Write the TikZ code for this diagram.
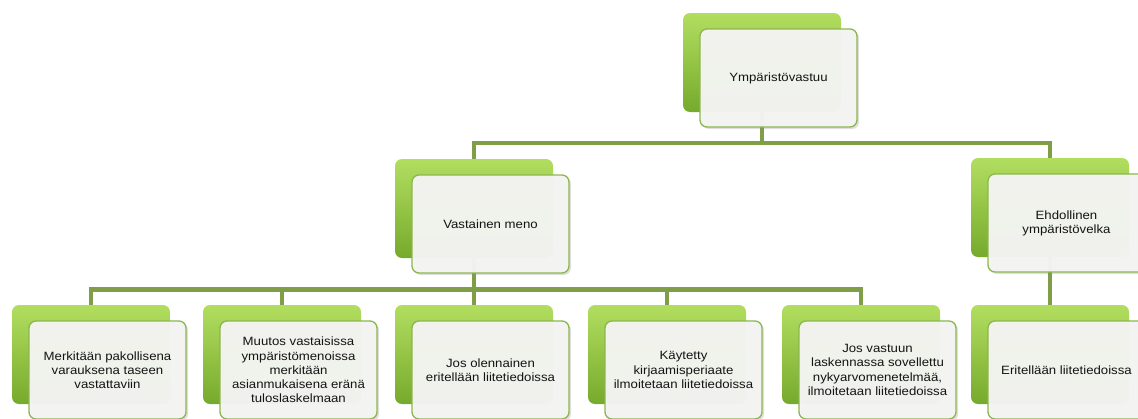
\documentclass[tikz,border=0pt]{standalone}
\usepackage{fontspec}
\newfontfamily\boxfont[FakeStretch=1.1]{Liberation Sans}
\usetikzlibrary{shadows}
\pgfdeclarelayer{background}
\pgfsetlayers{background,main}
\definecolor{conncol}{RGB}{128,158,72}
\definecolor{gtop}{RGB}{178,222,96}
\definecolor{gmid}{RGB}{142,198,62}
\definecolor{gbot}{RGB}{118,170,44}
\definecolor{frontfill}{RGB}{245,245,243}
\definecolor{frontdraw}{RGB}{140,182,78}
\definecolor{txt}{RGB}{20,20,20}
\tikzset{
  backbox/.style={rectangle, rounded corners=7pt, minimum width=158pt, minimum height=99pt, inner sep=0pt,
    top color=gtop, middle color=gmid, bottom color=gbot, draw=none},
  frontbox/.style={rectangle, rounded corners=7pt, minimum width=157pt, minimum height=98pt, inner sep=2pt,
    fill=frontfill, fill opacity=0.96, text opacity=1, draw=frontdraw, line width=1.3pt,
    align=center, text=txt, font=\boxfont\fontsize{12}{14.2}\selectfont,
    drop shadow={opacity=0.25, shadow xshift=2pt, shadow yshift=-2pt}},
  conn/.style={draw=conncol, line width=4.5pt}
}
\newcommand\mybox[4]{%
  \node[backbox] (#1b) at (#2+79,#3+49.5) {};
  \node[frontbox] (#1) at (#2+95.5,#3+65) {#4};
}
\begin{document}
\begin{tikzpicture}[x=1pt,y=-1pt]
\useasboundingbox (0,0) rectangle (1138,418);
\clip (0,0) rectangle (1138,418);
\coordinate (toprail) at (0,143);
\coordinate (botrail) at (0,289.5);
\mybox{top}{683}{13}{Ympäristövastuu}
\mybox{vm}{395}{159}{Vastainen meno}
\mybox{eh}{971}{158}{Ehdollinen\\ympäristövelka}
\mybox{er}{971}{305}{Eritellään liitetiedoissa}
\mybox{ba}{12}{305}{Merkitään pakollisena\\varauksena taseen\\vastattaviin}
\mybox{bb}{203}{305}{Muutos vastaisissa\\ympäristömenoissa\\merkitään\\asianmukaisena eränä\\tuloslaskelmaan}
\mybox{bc}{395}{305}{Jos olennainen\\eritellään liitetiedoissa}
\mybox{bd}{588}{305}{Käytetty\\kirjaamisperiaate\\ilmoitetaan liitetiedoissa}
\mybox{be}{782}{305}{Jos vastuun\\laskennassa sovellettu\\nykyarvomenetelmää,\\ilmoitetaan liitetiedoissa}
\begin{pgfonlayer}{background}
\draw[conn] (topb.center) -- (topb.center |- toprail) -| (vmb.center);
\draw[conn] (topb.center |- toprail) -| (ehb.center);
\draw[conn] (ehb.center) -- (erb.center);
\draw[conn] (vmb.center) -- (vmb.center |- botrail) -| (bab.center);
\draw[conn] (vmb.center |- botrail) -| (bbb.center);
\draw[conn] (vmb.center) -- (bcb.center);
\draw[conn] (vmb.center |- botrail) -| (bdb.center);
\draw[conn] (vmb.center |- botrail) -| (beb.center);
\end{pgfonlayer}
\end{tikzpicture}
\end{document}
